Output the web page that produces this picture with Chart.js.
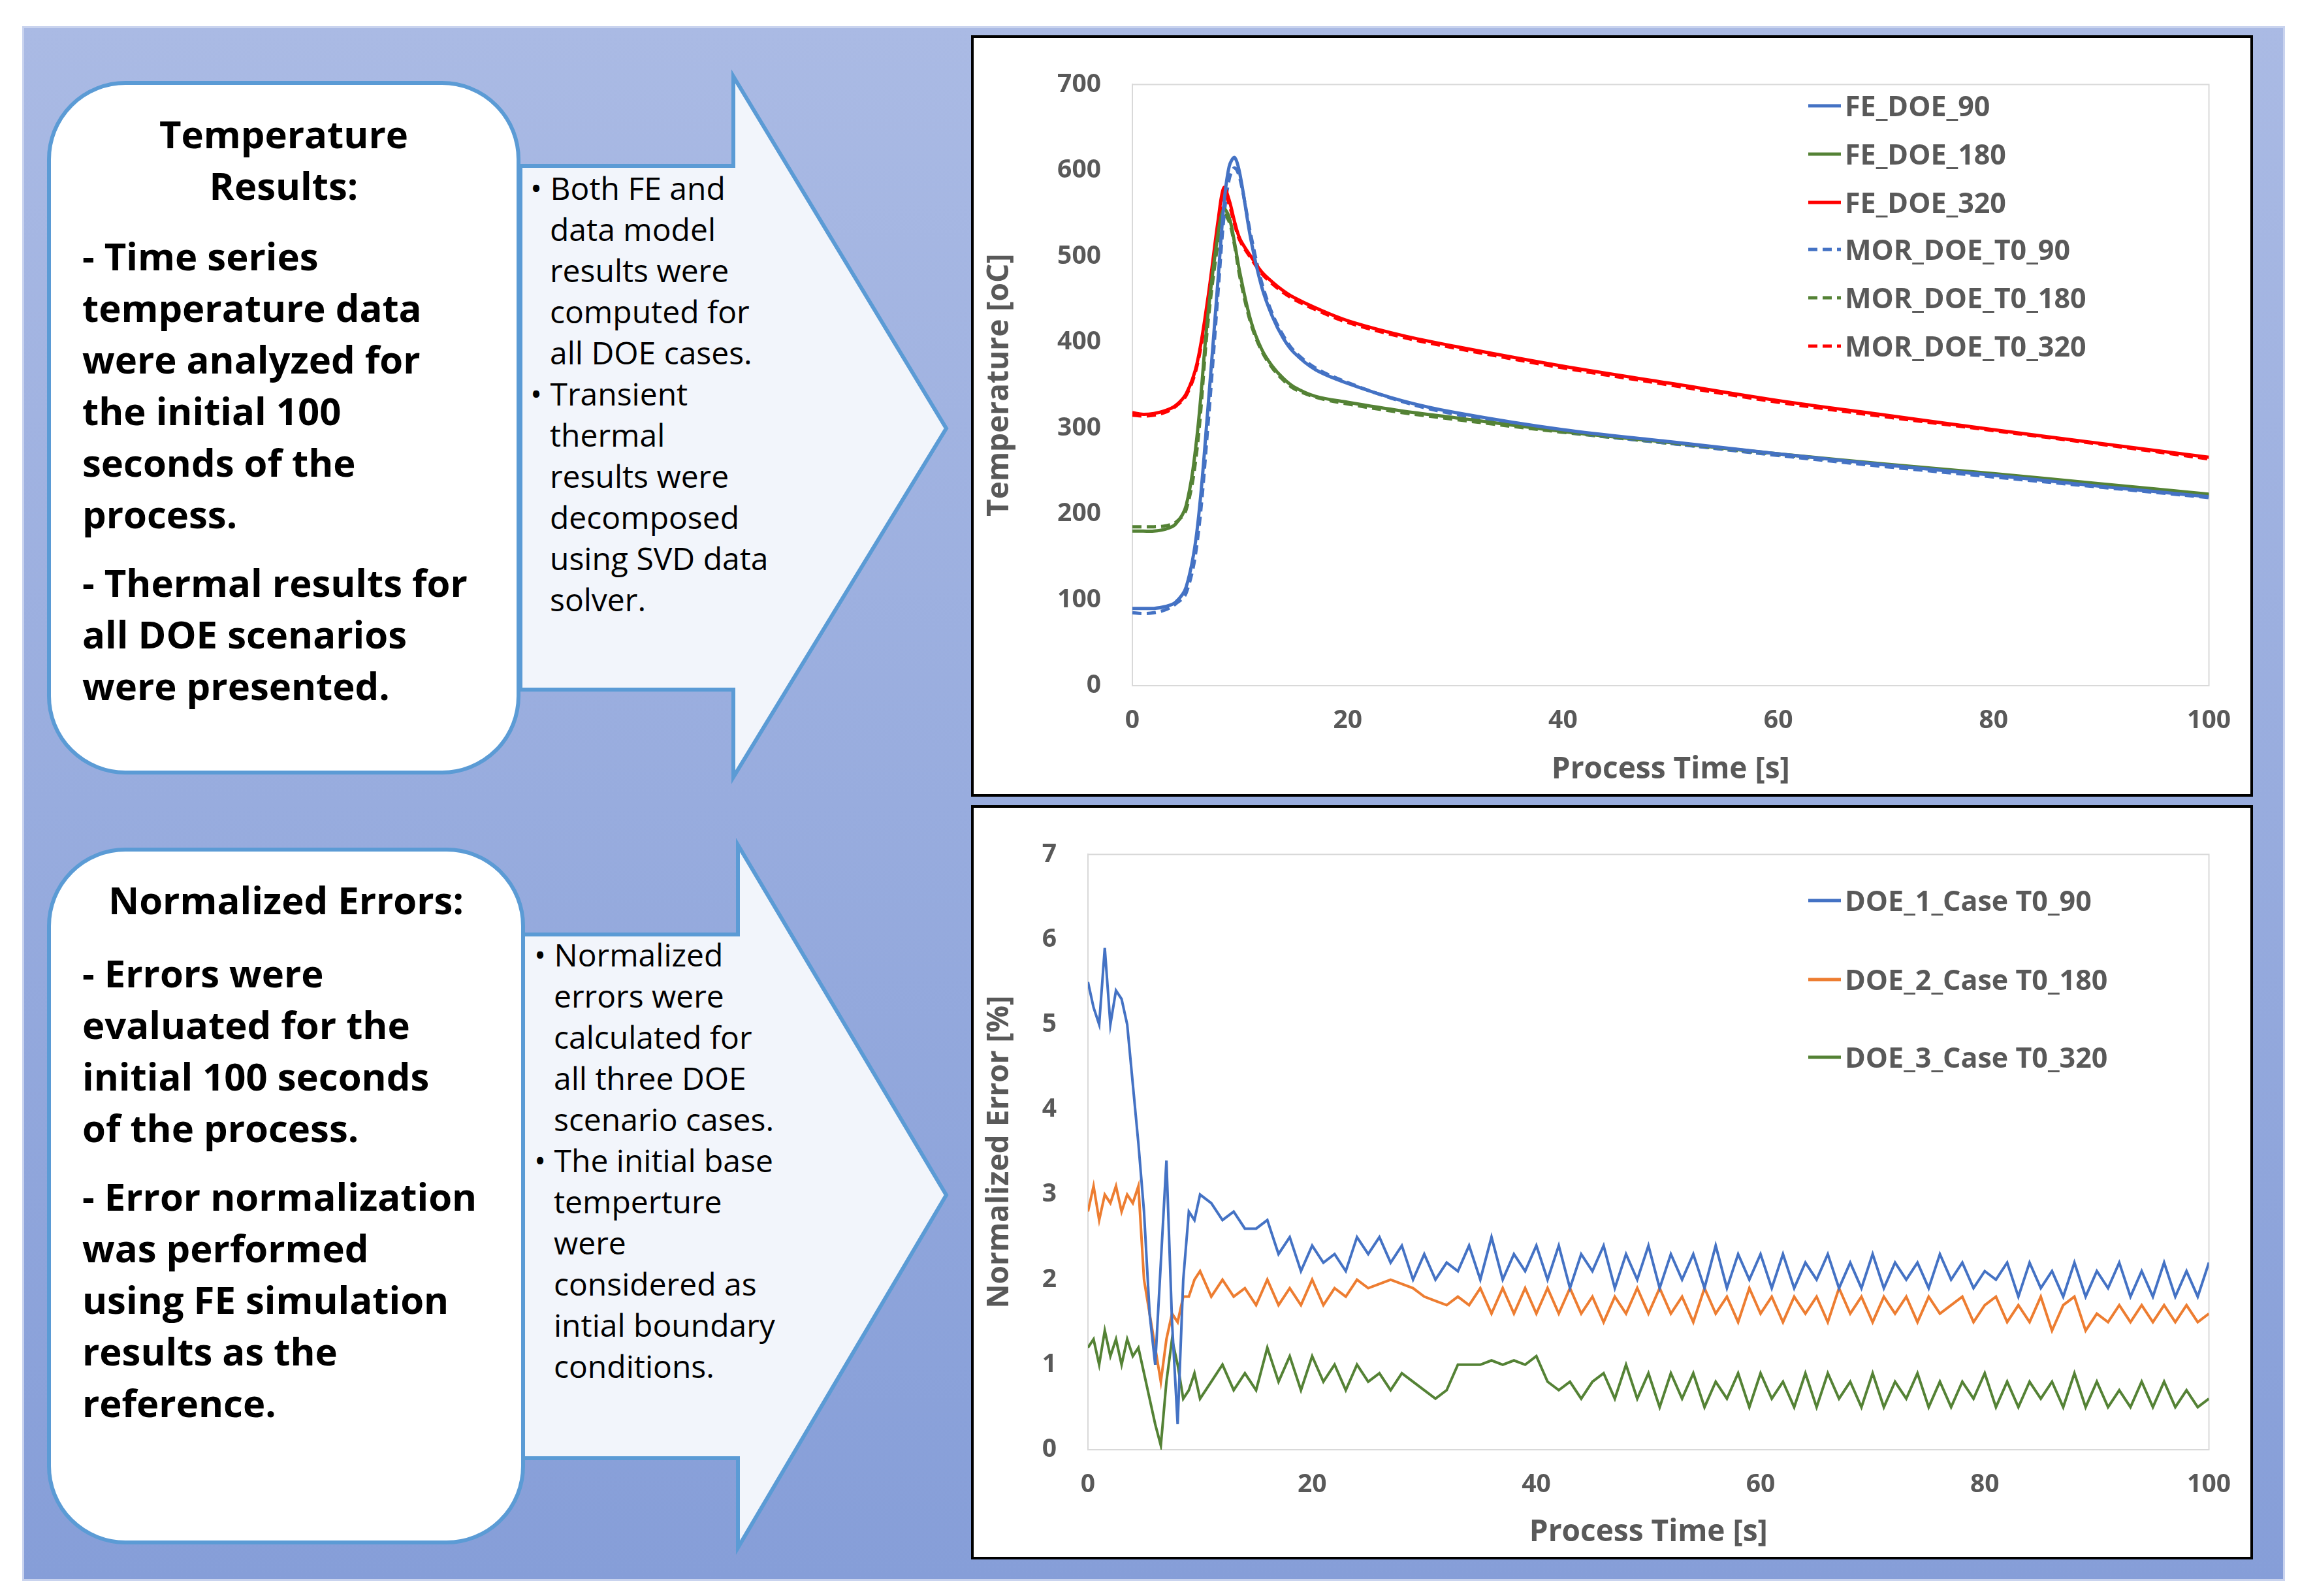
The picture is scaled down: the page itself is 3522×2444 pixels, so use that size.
<!DOCTYPE html>
<html><head><meta charset="utf-8">
<script src="https://cdn.jsdelivr.net/npm/chart.js@4.4.1/dist/chart.umd.min.js"></script>
<style>
body{margin:0;background:#fff;width:3522px;height:2444px;position:relative;overflow:hidden;font-family:"Open Sans",sans-serif}
#bg{position:absolute;left:34px;top:40px;width:3459px;height:2375px;background:linear-gradient(#aabae4,#869ed8);border:3px solid #c9d3ee}
.box{position:absolute;background:#fff;border:6px solid #5b9bd5;border-radius:120px;box-sizing:border-box}
.lt{position:absolute;font-weight:700;font-size:58px;color:#000;line-height:79px}
.at{position:absolute;font-size:48px;line-height:63px;color:#000}
.at p{margin:0;padding-left:42px;text-indent:-30px}
.cb{position:absolute;background:#fff;border:4px solid #000;box-sizing:border-box}
.lg{position:absolute;font-weight:700;font-size:43px;color:#595959;display:flex;align-items:center}
.lg svg{margin-right:6px}
</style></head><body>
<div id="bg"></div>
<svg width="3522" height="2444" style="position:absolute;left:0;top:0">
<polygon points="797,254 1123,254 1123,117 1449,656 1123,1190 1123,1056 797,1056" fill="#f2f5fb" stroke="#5b9bd5" stroke-width="6"/>
<polygon points="800,1431 1130,1431 1130,1294 1449,1830 1130,2370 1130,2233 800,2233" fill="#f2f5fb" stroke="#5b9bd5" stroke-width="6"/>
</svg>
<div class="box" style="left:72px;top:124px;width:725px;height:1062px"></div>
<div class="box" style="left:72px;top:1298px;width:732px;height:1067px"></div>
<div class="lt" style="left:72px;top:165px;width:725px;text-align:center">Temperature<br>Results:</div>
<div class="lt" style="left:126px;top:352px">- Time series<br>temperature data<br>were analyzed for<br>the initial 100<br>seconds of the<br>process.</div>
<div class="lt" style="left:126px;top:852px">- Thermal results for<br>all DOE scenarios<br>were presented.</div>
<div class="lt" style="left:72px;top:1338px;width:732px;text-align:center">Normalized Errors:</div>
<div class="lt" style="left:126px;top:1450px">- Errors were<br>evaluated for the<br>initial 100 seconds<br>of the process.</div>
<div class="lt" style="left:126px;top:1792px">- Error normalization<br>was performed<br>using FE simulation<br>results as the<br>reference.</div>
<div class="at" style="left:800px;top:256px;width:380px"><p>• Both FE and data model results were computed for all DOE cases.</p><p>• Transient thermal results were decomposed using SVD data solver.</p></div>
<div class="at" style="left:806px;top:1430px;width:390px"><p>• Normalized errors were calculated for all three DOE scenario cases.</p><p>• The initial base temperture were considered as intial boundary conditions.</p></div>
<div class="cb" style="left:1487px;top:54px;width:1963px;height:1166px"><canvas id="c1" width="1955" height="1158"></canvas></div>
<div class="cb" style="left:1487px;top:1233px;width:1963px;height:1155px"><canvas id="c2" width="1955" height="1147"></canvas></div>
<script>
// ---------- Temperature chart data ----------
const tTime = [0,1,2,3,4,5,6,7,8,8.5,9,9.5,10,11,12,13,14,15,17,20,25,30,40,50,60,70,80,90,100];
const feDoe90  = [90,90,90,92,97,115,180,320,480,560,605,615,595,520,465,430,405,388,368,352,332,318,298,284,270,257,245,232,220];
const feDoe180 = [180,180,180,182,188,210,290,430,530,555,545,515,480,425,392,372,358,348,337,330,320,312,296,283,270,258,247,235,223];
const feDoe320 = [318,316,317,320,326,340,375,450,545,580,565,540,520,500,482,470,460,452,440,425,408,395,372,352,332,315,298,282,266];
const morDoe90  = [85,84,85,88,95,108,165,300,465,545,590,603,590,525,470,433,408,390,370,353,331,316,296,282,268,255,243,231,219];
const morDoe180 = [185,185,185,186,190,205,275,420,520,548,540,512,475,422,390,370,356,346,336,328,318,310,295,282,269,257,246,234,222];
const morDoe320 = [315,314,315,318,325,338,372,445,538,575,560,537,518,498,480,468,458,450,438,423,406,393,370,350,330,313,297,281,264];
const tempTicks = [0,100,200,300,400,500,600,700];
// ---------- Error chart data ----------
const eTime = [0,0.5,1,1.5,2,2.5,3,3.5,4,4.5,5,5.5,6,6.5,7,7.5,8,8.5,9,9.5,10,11,12,13,14,15,16,17,18,19,20,21,22,23,24,25,26,27,28,29,30,31,32,33,34,35,36,37,38,39,40,41,42,43,44,45,46,47,48,49,50,51,52,53,54,55,56,57,58,59,60,61,62,63,64,65,66,67,68,69,70,71,72,73,74,75,76,77,78,79,80,81,82,83,84,85,86,87,88,89,90,91,92,93,94,95,96,97,98,99,100];
const doe1 = [5.5,5.2,5.0,5.9,5.0,5.4,5.3,5.0,4.3,3.6,2.8,1.6,1.0,2.2,3.4,1.5,0.3,2.0,2.8,2.7,3.0,2.9,2.7,2.8,2.6,2.6,2.7,2.3,2.5,2.1,2.4,2.2,2.3,2.1,2.5,2.3,2.5,2.2,2.4,2.0,2.3,2.0,2.2,2.1,2.4,2.0,2.5,2.0,2.3,2.1,2.4,2.0,2.4,1.9,2.3,2.1,2.4,1.9,2.3,2.0,2.4,1.9,2.3,2.0,2.3,1.9,2.4,1.9,2.3,2.0,2.3,1.9,2.3,1.9,2.2,2.0,2.3,1.9,2.2,1.9,2.3,1.9,2.2,2.0,2.2,1.9,2.3,2.0,2.2,1.9,2.1,2.0,2.2,1.8,2.2,1.9,2.1,1.8,2.2,1.8,2.1,1.9,2.2,1.8,2.1,1.8,2.2,1.8,2.1,1.8,2.2];
const doe2 = [2.8,3.1,2.7,3.0,2.9,3.1,2.8,3.0,2.9,3.1,2.0,1.6,1.2,0.8,1.3,1.6,1.5,1.8,1.8,2.0,2.1,1.8,2.0,1.8,1.9,1.7,2.0,1.7,1.9,1.7,2.0,1.7,1.9,1.8,2.0,1.9,1.95,2.0,1.95,1.9,1.8,1.75,1.7,1.8,1.7,1.9,1.6,1.9,1.6,1.9,1.6,1.9,1.6,1.9,1.6,1.8,1.5,1.8,1.6,1.9,1.6,1.9,1.6,1.8,1.5,1.9,1.6,1.8,1.5,1.9,1.6,1.8,1.5,1.8,1.6,1.8,1.5,1.9,1.6,1.8,1.5,1.8,1.6,1.8,1.5,1.8,1.6,1.7,1.8,1.5,1.7,1.8,1.5,1.7,1.5,1.8,1.4,1.7,1.8,1.4,1.6,1.5,1.7,1.5,1.7,1.5,1.7,1.5,1.7,1.5,1.6];
const doe3 = [1.2,1.3,1.0,1.4,1.1,1.3,1.0,1.3,1.1,1.2,0.9,0.6,0.3,0.05,0.8,1.3,1.0,0.6,0.7,0.9,0.6,0.8,1.0,0.7,0.9,0.7,1.2,0.8,1.1,0.7,1.1,0.8,1.0,0.7,1.0,0.8,0.9,0.7,0.9,0.8,0.7,0.6,0.7,1.0,1.0,1.0,1.05,1.0,1.05,1.0,1.1,0.8,0.7,0.8,0.6,0.8,0.9,0.6,1.0,0.6,0.9,0.5,0.9,0.6,0.9,0.5,0.8,0.6,0.9,0.5,0.9,0.6,0.8,0.5,0.9,0.5,0.9,0.6,0.8,0.5,0.9,0.5,0.8,0.6,0.9,0.5,0.8,0.5,0.8,0.6,0.9,0.5,0.8,0.5,0.8,0.6,0.8,0.5,0.9,0.5,0.8,0.5,0.7,0.5,0.8,0.5,0.8,0.5,0.7,0.5,0.6];
const errTicks = [0,1,2,3,4,5,6,7];
const xTicks = [0,20,40,60,80,100];

const BLUE='#4472c4', GREEN='#548235', RED='#ff0000', ORANGE='#ed7d31', GRAY='#595959';
const pts = (xs, ys) => xs.map((x,i)=>({x, y: ys[i]}));
const ds = (label, xs, ys, color, dash, tension, bw) => ({label, data: pts(xs, ys), borderColor: color, backgroundColor: color, borderWidth: bw, borderDash: dash ? [14,8] : [], pointRadius: 0, tension, fill: false});
const frame = {id:'frame', beforeDatasetsDraw(c){const a=c.chartArea,x=c.ctx;x.save();x.strokeStyle='#d9d9d9';x.lineWidth=2;x.strokeRect(a.left,a.top,a.right-a.left,a.bottom-a.top);x.restore();}};
const tickFont = {family:'"Open Sans"', size: 39, weight: '700'};
const titleFont = {family:'"Open Sans"', size: 46, weight: '700'};

function make(id, datasets, yMax, yTicks, yTitle, yW, xH, pad) {
  return new Chart(document.getElementById(id), {
    type: 'line',
    data: {datasets},
    options: {
      responsive: false, animation: false, devicePixelRatio: 1,
      layout: {padding: pad},
      plugins: {legend: {display: false}, tooltip: {enabled: false}},
      scales: {
        x: {type: 'linear', min: 0, max: 100, afterBuildTicks: s => { s.ticks = xTicks.map(v => ({value: v})); },
            grid: {display: false, drawTicks: false}, border: {color: '#d9d9d9', width: 2},
            ticks: {color: GRAY, font: tickFont, padding: 30, maxRotation: 0},
            title: {display: true, text: 'Process Time [s]', color: GRAY, font: titleFont, padding: {top: 0}},
            afterFit: s => { s.height = xH; }},
        y: {min: 0, max: yMax, afterBuildTicks: s => { s.ticks = yTicks.map(v => ({value: v})); },
            grid: {display: false, drawTicks: false}, border: {color: '#d9d9d9', width: 2},
            ticks: {color: GRAY, font: tickFont, padding: 48},
            title: {display: true, text: yTitle, color: GRAY, font: titleFont},
            afterFit: s => { s.width = yW; }}
      }
    },
    plugins: [frame]
  });
}
make('c1', [
  ds('FE_DOE_90', tTime, feDoe90, BLUE, false, 0.35, 5),
  ds('FE_DOE_180', tTime, feDoe180, GREEN, false, 0.35, 5),
  ds('FE_DOE_320', tTime, feDoe320, RED, false, 0.35, 5),
  ds('MOR_DOE_T0_90', tTime, morDoe90, BLUE, true, 0.35, 5),
  ds('MOR_DOE_T0_180', tTime, morDoe180, GREEN, true, 0.35, 5),
  ds('MOR_DOE_T0_320', tTime, morDoe320, RED, true, 0.35, 5)
], 700, tempTicks, 'Temperature [oC]', 235, 160, {left: 8, right: 21, top: 4, bottom: 6});
make('c2', [
  ds('DOE_1_Case T0_90', eTime, doe1, BLUE, false, 0, 4),
  ds('DOE_2_Case T0_180', eTime, doe2, ORANGE, false, 0, 4),
  ds('DOE_3_Case T0_320', eTime, doe3, GREEN, false, 0, 4)
], 7, errTicks, 'Normalized Error [%]', 167, 158, {left: 8, right: 47, top: 0, bottom: 6});

function legend(items, x, ys) {
  items.forEach((it, i) => {
    const d = document.createElement('div'); d.className = 'lg';
    d.style.left = x + 'px'; d.style.top = (ys[i] - 30) + 'px';
    d.innerHTML = `<svg width="50" height="10"><line x1="0" y1="5" x2="50" y2="5" stroke="${it[1]}" stroke-width="5" ${it[2] ? 'stroke-dasharray="14,8"' : ''}/></svg>${it[0]}`;
    document.body.appendChild(d);
  });
}
legend([['FE_DOE_90',BLUE,0],['FE_DOE_180',GREEN,0],['FE_DOE_320',RED,0],['MOR_DOE_T0_90',BLUE,1],['MOR_DOE_T0_180',GREEN,1],['MOR_DOE_T0_320',RED,1]], 2769, [162,236,310,382,456,530]);
legend([['DOE_1_Case T0_90',BLUE,0],['DOE_2_Case T0_180',ORANGE,0],['DOE_3_Case T0_320',GREEN,0]], 2769, [1379,1500,1619]);
</script>
</body></html>
